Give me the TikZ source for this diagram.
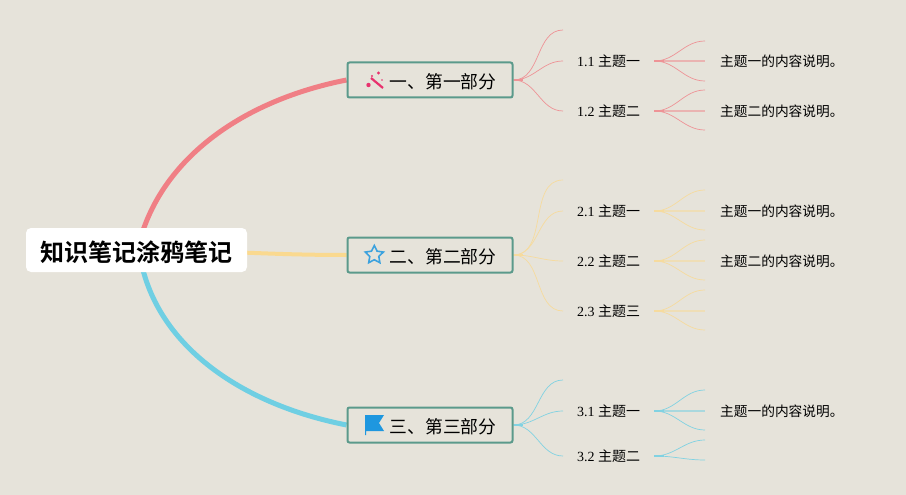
\documentclass[tikz,border=0pt]{standalone}
\usepackage{fontspec}
\setmainfont{Liberation Serif}
\newfontfamily\cjk[BoldFont=Noto Sans CJK SC Bold]{Noto Sans CJK SC}
\usetikzlibrary{backgrounds}
\usetikzlibrary{shapes.geometric}
\definecolor{paper}{HTML}{E6E3DA}
\definecolor{boxline}{HTML}{5B9A8B}
\definecolor{redline}{HTML}{F07F85}
\definecolor{yellowline}{HTML}{FAD98F}
\definecolor{blueline}{HTML}{6FCFE3}
\definecolor{wandred}{HTML}{E8326E}
\definecolor{iconblue}{HTML}{1E97DF}
\newcommand{\topictext}[2]{#1 {\cjk #2}}
\tikzset{
	root/.style={
		fill=white,
		rounded corners=5pt,
		minimum width=221pt,
		minimum height=44pt,
		inner sep=0pt,
		text height=22pt,
		text depth=0pt,
		font=\fontsize{24}{28}\selectfont\cjk\bfseries,
	},
	part/.style={
		draw=boxline,
		line width=2pt,
		fill=paper,
		rounded corners=2pt,
		minimum width=165pt,
		minimum height=35pt,
		inner sep=0pt,
		text height=17pt,
		text depth=0pt,
		font=\fontsize{17.8}{20}\selectfont\cjk,
	},
	topic/.style={
		anchor=west,
		inner xsep=14pt,
		inner ysep=2pt,
		font=\fontsize{14}{16}\selectfont,
	},
	content/.style={
		anchor=west,
		inner xsep=15pt,
		inner ysep=2pt,
		font=\fontsize{13.7}{16}\selectfont\cjk,
	},
	mainlink/.style={
		line width=5pt,
	},
	sublink/.style={
		line width=0.7pt,
		out=0,
		in=180,
	},
	midlink/.style={
		line width=1.3pt,
		opacity=0.6,
	},
	stub/.style={
		line width=1.7pt,
	},
	redsub/.style={redline!80!paper},
	yellowsub/.style={yellowline!80!paper},
	bluesub/.style={blueline!85!paper},
}

\begin{document}
\begin{tikzpicture}[x=1pt,y=-1pt]
	\useasboundingbox (0,0) rectangle (906,495);

	\node[root] (R) at (136.5,250) {知识笔记涂鸦笔记};

	\node[part] (P1) at (430,80) {\hspace*{26pt}一、第一部分};
	\node[part] (P2) at (430,255) {\hspace*{26pt}二、第二部分};
	\node[part] (P3) at (430,425) {\hspace*{26pt}三、第三部分};

	\node[topic] (T11) at (563,61) {\topictext{1.1}{主题一}};
	\node[topic] (T12) at (563,111) {\topictext{1.2}{主题二}};
	\node[topic] (T21) at (563,211) {\topictext{2.1}{主题一}};
	\node[topic] (T22) at (563,261) {\topictext{2.2}{主题二}};
	\node[topic] (T23) at (563,311) {\topictext{2.3}{主题三}};
	\node[topic] (T31) at (563,411) {\topictext{3.1}{主题一}};
	\node[topic] (T32) at (563,456) {\topictext{3.2}{主题二}};

	\node[content] (C11) at (705,61) {主题一的内容说明。};
	\node[content] (C12) at (705,111) {主题二的内容说明。};
	\node[content] (C21) at (705,211) {主题一的内容说明。};
	\node[content] (C22) at (705,261) {主题二的内容说明。};
	\node[content] (C31) at (705,411) {主题一的内容说明。};

	% free ends
	\coordinate (RA) at (142.5,232);
	\coordinate (RB) at (142.5,268);
	\coordinate (E1) at (563,30);
	\coordinate (E2) at (563,180);
	\coordinate (E3) at (563,380);
	\coordinate (E11a) at (705,41);
	\coordinate (E11b) at (705,81);
	\coordinate (E12a) at (705,90);
	\coordinate (E12b) at (705,130);
	\coordinate (E21a) at (705,190);
	\coordinate (E21b) at (705,230);
	\coordinate (E22a) at (705,240);
	\coordinate (E22b) at (705,280);
	\coordinate (E23a) at (705,290);
	\coordinate (E23b) at (705,330);
	\coordinate (E23c) at (705,311);
	\coordinate (E31a) at (705,390);
	\coordinate (E31b) at (705,430);
	\coordinate (E32a) at (705,440);
	\coordinate (E32b) at (705,460);

	\begin{scope}[on background layer]
		\fill[paper] (0,0) rectangle (906,495);

		\draw[mainlink,redline] (RA) .. controls (168,155) and (245,100) .. (P1.west);
		\draw[mainlink,yellowline,line width=4pt] (R.center) to[out=0,in=180] (P2.west);
		\draw[mainlink,blueline] (RB) .. controls (163,350) and (245,405) .. (P3.west);

		\draw[sublink,redsub] (P1.east) to (E1);
		\draw[sublink,redsub] (P1.east) to (T11.west);
		\draw[sublink,redsub] (P1.east) to (T12.west);
		\draw[stub,redsub] (P1.east) -- ++(9,0);
		\draw[sublink,redsub] (T11.east) to (E11a);
		\draw[midlink,redsub] (T11.east) -- (C11.west);
		\draw[sublink,redsub] (T11.east) to (E11b);
		\draw[stub,redsub] (T11.east) -- ++(10,0);
		\draw[sublink,redsub] (T12.east) to (E12a);
		\draw[midlink,redsub] (T12.east) -- (C12.west);
		\draw[sublink,redsub] (T12.east) to (E12b);
		\draw[stub,redsub] (T12.east) -- ++(10,0);

		\draw[sublink,yellowsub] (P2.east) to (E2);
		\draw[sublink,yellowsub] (P2.east) to (T21.west);
		\draw[sublink,yellowsub] (P2.east) to (T22.west);
		\draw[sublink,yellowsub] (P2.east) to (T23.west);
		\draw[stub,yellowsub] (P2.east) -- ++(9,0);
		\draw[sublink,yellowsub] (T21.east) to (E21a);
		\draw[midlink,yellowsub] (T21.east) -- (C21.west);
		\draw[sublink,yellowsub] (T21.east) to (E21b);
		\draw[stub,yellowsub] (T21.east) -- ++(10,0);
		\draw[sublink,yellowsub] (T22.east) to (E22a);
		\draw[midlink,yellowsub] (T22.east) -- (C22.west);
		\draw[sublink,yellowsub] (T22.east) to (E22b);
		\draw[stub,yellowsub] (T22.east) -- ++(10,0);
		\draw[sublink,yellowsub] (T23.east) to (E23a);
		\draw[midlink,yellowsub] (T23.east) -- (E23c);
		\draw[sublink,yellowsub] (T23.east) to (E23b);
		\draw[stub,yellowsub] (T23.east) -- ++(10,0);

		\draw[sublink,bluesub] (P3.east) to (E3);
		\draw[sublink,bluesub] (P3.east) to (T31.west);
		\draw[sublink,bluesub] (P3.east) to (T32.west);
		\draw[stub,bluesub] (P3.east) -- ++(9,0);
		\draw[sublink,bluesub] (T31.east) to (E31a);
		\draw[midlink,bluesub] (T31.east) -- (C31.west);
		\draw[sublink,bluesub] (T31.east) to (E31b);
		\draw[stub,bluesub] (T31.east) -- ++(10,0);
		\draw[sublink,bluesub] (T32.east) to (E32a);
		\draw[sublink,bluesub] (T32.east) to (E32b);
		\draw[stub,bluesub] (T32.east) -- ++(10,0);
	\end{scope}

	% icons
	\draw[wandred,line width=2.2pt] (371,78) -- (383,88);
	\fill[wandred] (368.5,85) circle (2.2pt);
	\fill[wandred] (378.5,73) circle (1.6pt);
	\fill[wandred] (382,80) circle (0.9pt);
	\fill[wandred] (372,76) circle (1.2pt);

	\node[star,star points=5,star point ratio=2,draw=iconblue!85!paper,line width=1.6pt,minimum size=19pt,inner sep=0pt] (S2) at (374.3,255) {};

	\fill[iconblue] (365,415) -- (384,415) -- (379,423) -- (384,431) -- (366,431) -- (366,435) -- (365,435) -- cycle;
\end{tikzpicture}
\end{document}
